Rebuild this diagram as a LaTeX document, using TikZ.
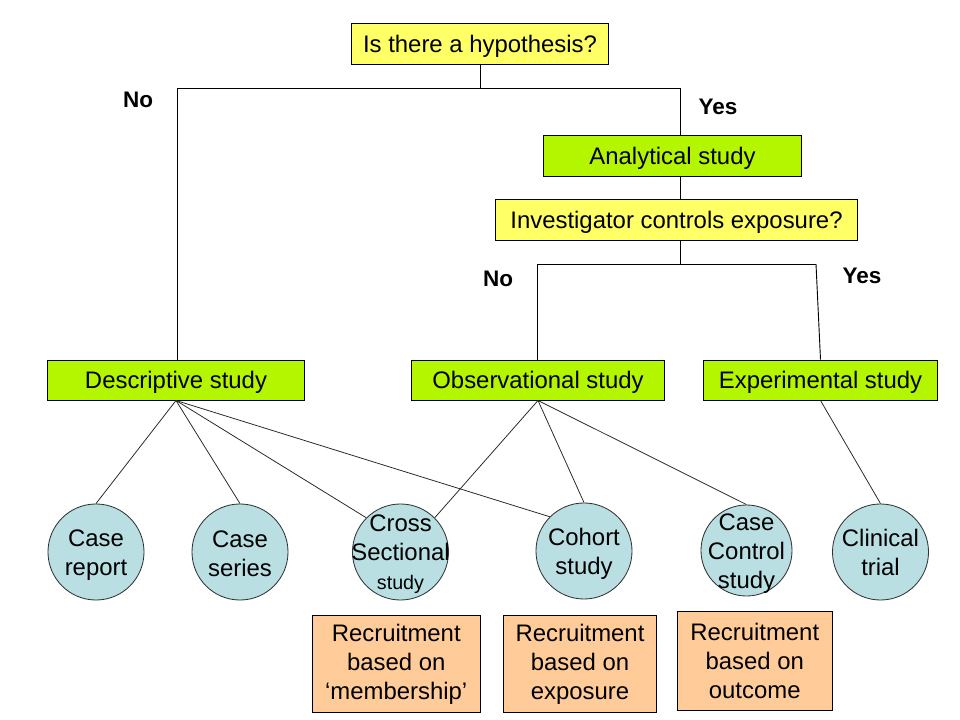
\documentclass[tikz,border=0pt]{standalone}
\usepackage{fontspec}
\setmainfont{Liberation Sans}
\definecolor{qyellow}{RGB}{255,255,102}
\definecolor{qgreen}{RGB}{180,246,0}
\definecolor{qblue}{RGB}{185,223,227}
\definecolor{qorange}{RGB}{255,204,153}
\tikzset{
  basebox/.style={draw=black, line width=0.7pt, inner sep=0pt, align=center,
    font=\fontsize{17}{20.6}\selectfont},
  onebox/.style={basebox, text height=12.6pt, text depth=0.4pt},
  ybox/.style={onebox, fill=qyellow},
  gbox/.style={onebox, fill=qgreen},
  obox/.style={basebox, fill=qorange},
  circ/.style={circle, draw=black!80, line width=0.6pt, fill=qblue, inner sep=0pt, minimum size=2.4cm},
  ctext/.style={align=center, inner sep=0pt, font=\fontsize{17}{20.6}\selectfont},
  lbl/.style={font=\fontsize{16}{19}\selectfont\bfseries, inner sep=0pt},
  conn/.style={draw=black, line width=0.65pt},
  thin/.style={draw=black!85, line width=0.55pt}
}
\begin{document}
\begin{tikzpicture}[x=0.025cm, y=-0.025cm]
\useasboundingbox (0,0) rectangle (960,720);
% boxes
\node[ybox, minimum width=6.4cm, minimum height=1cm] (hyp) at (480,44) {Is there a hypothesis?};
\node[gbox, minimum width=6.425cm, minimum height=1cm] (ana) at (672.5,156) {Analytical study};
\node[ybox, minimum width=9.025cm, minimum height=1cm] (inv) at (676.5,220) {Investigator controls exposure?};
\node[gbox, minimum width=6.4cm, minimum height=1cm] (desc) at (176,380) {Descriptive study};
\node[gbox, minimum width=6.3cm, minimum height=1cm] (obs) at (538,380) {Observational study};
\node[gbox, minimum width=5.825cm, minimum height=1cm] (exp) at (820.5,380) {Experimental study};
% labels
\node[lbl] (no1) at (138,100) {No};
\node[lbl] (yes1) at (718,107) {Yes};
\node[lbl] (no2) at (498,279) {No};
\node[lbl] (yes2) at (862,276) {Yes};
% tree connectors
\coordinate (spine) at (680.5,0);
\coordinate (jl) at (177,88);
\coordinate (jr) at (680.5,88);
\coordinate (kl) at (537,264);
\coordinate (km) at (680.5,264);
\coordinate (kr) at (816,264);
\draw[conn] (hyp.south) -- (hyp.south |- jl);
\draw[conn] (jl) -- (jr);
\draw[conn] (jl) -- (desc.north -| jl);
\draw[conn] (jr) -- (ana.north -| spine);
\draw[conn] (ana.south -| spine) -- (inv.north -| spine);
\draw[conn] (inv.south -| spine) -- (km);
\draw[conn] (kl) -- (kr);
\draw[conn] (kl) -- (obs.north -| kl);
\draw[conn] (kr) -- (exp.north);
% circles
\node[circ] (crep) at (96,552) {};
\node[circ] (cser) at (240,552) {};
\node[circ] (cross) at (400.5,552) {};
\node[circ] (coh) at (584,551) {};
\node[circ, minimum size=2.275cm] (cc) at (746.5,550.5) {};
\node[circ] (clin) at (880.5,552) {};
\node[ctext] (crept) at (96,555) {Case\\report};
\node[ctext] (csert) at (240,553.5) {Case\\series};
\node[ctext] (crosst) at (400.5,554) {Cross\\Sectional\\{\fontsize{14}{17}\selectfont study}};
\node[ctext] (coht) at (584,554) {Cohort\\study};
\node[ctext] (cct) at (746.5,553.5) {Case\\Control\\study};
\node[ctext] (clint) at (clin) {Clinical\\trial};
% diagonal connectors
\draw[thin] (desc.south) -- (crep.north);
\draw[thin] (desc.south) -- (cser.north);
\draw[thin] (desc.south) -- (cross.north west);
\draw[thin] (desc.south) -- (coh.north west);
\draw[thin] (obs.south) -- (cross.north east);
\draw[thin] (obs.south) -- (coh.north);
\draw[thin] (obs.south) -- (cc.north);
\draw[thin] (exp.south) -- (clin.north);
% recruitment boxes
\node[obox, minimum width=4.1875cm, minimum height=2.425cm] (r1) at (396.25,664.2) {Recruitment\\based on\\`membership'};
\node[obox, minimum width=3.8cm, minimum height=2.425cm] (r2) at (580,664.2) {Recruitment\\based on\\exposure};
\node[obox, minimum width=3.8625cm, minimum height=2.45cm] (r3) at (754.75,661) {Recruitment\\based on\\outcome};
\end{tikzpicture}
\end{document}
